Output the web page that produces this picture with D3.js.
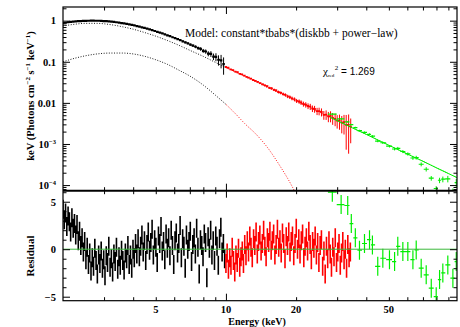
<!DOCTYPE html>
<html>
<head>
<meta charset="utf-8">
<script src="https://cdn.jsdelivr.net/npm/d3@7"></script>
<style>
  body { margin: 0; background: #fff; }
  svg { display: block; }
  text { font-family: "Liberation Serif", "DejaVu Serif", serif; fill: #000; }
</style>
</head>
<body>
<div id="app"></div>
<script>
// ---- data ----
// black instrument, 2-10 keV (unfolded spectrum)
const blackE = [2.00,2.05,2.10,2.16,2.21,2.27,2.32,2.38,2.44,2.51,
  2.57,2.64,2.70,2.77,2.84,2.92,2.99,3.07,3.15,3.23,
  3.31,3.39,3.48,3.57,3.66,3.75,3.85,3.95,4.05,4.15,
  4.26,4.36,4.47,4.59,4.71,4.83,4.95,5.08,5.21,5.34,
  5.47,5.61,5.76,5.90,6.05,6.21,6.37,6.53,6.70,6.87,
  7.04,7.22,7.41,7.60,7.79,7.99,8.19,8.40,8.62,8.84,
  9.06,9.29,9.53,9.77];
const blackFlux = [0.87,0.89,0.915,0.935,0.945,0.96,0.97,0.975,0.985,0.99,
  0.995,1.0,1.0,0.995,0.995,0.99,0.98,0.97,0.96,0.95,
  0.935,0.915,0.895,0.875,0.855,0.835,0.81,0.79,0.765,0.74,
  0.715,0.69,0.665,0.64,0.615,0.59,0.56,0.535,0.51,0.49,
  0.465,0.44,0.42,0.395,0.375,0.355,0.335,0.315,0.295,0.28,
  0.262,0.248,0.232,0.215,0.205,0.185,0.178,0.158,0.156,0.134,
  0.132,0.112,0.108,0.088];
const blackErr = [0.012,0.012,0.012,0.012,0.012,0.012,0.012,0.012,0.012,0.012,
  0.012,0.012,0.012,0.012,0.012,0.012,0.012,0.012,0.012,0.012,
  0.015,0.015,0.015,0.015,0.015,0.015,0.015,0.015,0.015,0.015,
  0.02,0.02,0.02,0.02,0.02,0.02,0.02,0.02,0.02,0.02,
  0.03,0.03,0.035,0.035,0.04,0.04,0.045,0.05,0.05,0.055,
  0.06,0.07,0.08,0.09,0.1,0.11,0.12,0.14,0.16,0.18,
  0.22,0.28,0.36,0.45];

// black residuals (finer binning)
const blackResE = [2.000,2.025,2.051,2.077,2.103,2.130,2.157,2.184,2.212,2.240,
  2.268,2.297,2.326,2.355,2.385,2.415,2.446,2.477,2.508,2.540,
  2.572,2.604,2.637,2.671,2.704,2.739,2.773,2.808,2.844,2.880,
  2.916,2.953,2.990,3.028,3.066,3.105,3.144,3.184,3.225,3.265,
  3.307,3.348,3.391,3.434,3.477,3.521,3.566,3.611,3.657,3.703,
  3.750,3.797,3.845,3.894,3.943,3.993,4.044,4.095,4.147,4.199,
  4.252,4.306,4.361,4.416,4.472,4.528,4.585,4.643,4.702,4.762,
  4.822,4.883,4.945,5.007,5.071,5.135,5.200,5.266,5.332,5.400,
  5.468,5.537,5.607,5.678,5.750,5.823,5.897,5.971,6.047,6.123,
  6.201,6.279,6.359,6.439,6.521,6.603,6.687,6.771,6.857,6.944,
  7.032,7.121,7.211,7.302,7.394,7.488,7.583,7.679,7.776,7.874,
  7.974,8.075,8.177,8.281,8.385,8.492,8.599,8.708,8.818,8.930,
  9.043,9.157,9.273,9.390,9.509,9.629,9.751,9.874];
const blackRes = [4.2,3.1,3.8,2.4,3.5,2.9,1.8,3.3,2.2,2.7,
  1.5,2.6,0.9,1.9,0.4,1.2,-0.3,0.8,-1.1,0.2,
  -1.6,-0.4,-2.3,-0.9,-1.8,0.1,-1.2,-2.6,-0.6,-1.5,
  -0.2,-2.0,-1.1,-2.8,-0.7,-1.4,0.3,-1.9,-1.0,-2.4,
  -0.5,-1.3,0.2,-2.1,-0.8,-1.7,-0.1,-1.2,-2.2,-0.4,
  -1.0,0.4,-1.6,-0.6,-2.0,0.0,-0.9,0.6,-0.5,1.1,
  -0.8,0.3,1.5,-0.3,0.9,-1.2,0.5,1.8,-0.1,0.7,
  2.1,-0.6,1.0,0.2,-1.4,1.4,0.6,2.4,-0.2,0.8,
  -1.1,1.6,0.1,1.2,-0.7,2.0,0.4,-1.6,0.9,1.7,
  -0.4,0.6,2.5,-0.9,1.1,0.3,-2.0,1.5,0.0,0.8,
  1.9,-1.3,0.5,1.2,-0.5,2.2,0.2,-2.6,1.0,0.4,
  -0.8,1.6,0.7,-3.0,1.3,0.1,2.0,-0.6,0.9,-1.2,
  1.4,0.3,-1.7,1.1,2.3,-0.3,0.6,-1.0];

// red instrument, 10-35 keV
const redE = [10.0,10.2,10.5,10.7,11.0,11.2,11.5,11.7,12.0,12.3,
  12.5,12.8,13.1,13.4,13.7,14.0,14.4,14.7,15.0,15.4,
  15.7,16.1,16.4,16.8,17.2,17.6,18.0,18.4,18.8,19.2,
  19.7,20.1,20.6,21.0,21.5,22.0,22.5,23.0,23.5,24.0,
  24.6,25.1,25.7,26.3,26.9,27.5,28.1,28.7,29.4,30.0,
  30.7,31.4,32.1,32.8,33.6,34.3];
const redFlux = [0.0745,0.0715,0.0655,0.0628,0.0578,0.0556,0.0510,0.0494,0.0462,0.0427,
  0.0413,0.0390,0.0360,0.0343,0.0325,0.0301,0.0283,0.0266,0.0254,0.0232,
  0.0225,0.0208,0.0200,0.0184,0.0176,0.0164,0.0156,0.0144,0.0138,0.0129,
  0.0122,0.0112,0.0108,0.0102,0.0094,0.0090,0.0084,0.0081,0.0073,0.0071,
  0.0063,0.0063,0.0060,0.0051,0.0052,0.0047,0.0048,0.0043,0.0041,0.0037,
  0.0037,0.0033,0.0034,0.0029,0.0029,0.0026];
const redErr = [0.02,0.02,0.02,0.022,0.022,0.024,0.025,0.026,0.028,0.03,
  0.032,0.035,0.038,0.04,0.043,0.046,0.05,0.054,0.058,0.062,
  0.066,0.07,0.074,0.078,0.082,0.086,0.09,0.095,0.1,0.105,
  0.11,0.115,0.12,0.13,0.14,0.15,0.16,0.17,0.18,0.19,
  0.2,0.21,0.22,0.24,0.26,0.28,0.3,0.32,0.34,0.36,
  0.4,0.45,0.5,0.75,0.8,0.6];

// red residuals (finer binning)
const redResE = [10.00,10.12,10.25,10.38,10.51,10.64,10.77,10.91,11.04,11.18,
  11.32,11.46,11.60,11.75,11.89,12.04,12.19,12.35,12.50,12.66,
  12.81,12.97,13.14,13.30,13.47,13.63,13.80,13.98,14.15,14.33,
  14.51,14.69,14.87,15.06,15.25,15.44,15.63,15.82,16.02,16.22,
  16.42,16.63,16.84,17.05,17.26,17.48,17.69,17.92,18.14,18.37,
  18.60,18.83,19.06,19.30,19.54,19.79,20.03,20.28,20.54,20.79,
  21.05,21.32,21.58,21.85,22.13,22.40,22.68,22.97,23.25,23.54,
  23.84,24.14,24.44,24.74,25.05,25.36,25.68,26.00,26.33,26.65,
  26.99,27.32,27.67,28.01,28.36,28.72,29.08,29.44,29.81,30.18,
  30.56,30.94,31.33,31.72,32.12,32.52,32.92,33.33,33.75,34.17];
const redRes = [-1.5,-0.4,-2.1,-0.9,-1.7,0.2,-1.2,-2.4,-0.6,-1.4,
  0.1,-1.9,-0.8,-0.2,-1.5,0.5,-0.7,0.9,-0.3,1.4,
  0.2,-0.9,1.1,0.4,1.8,-0.5,0.8,1.5,-0.2,0.6,
  2.0,0.3,-0.8,1.2,0.7,1.9,-0.1,0.9,1.6,-0.6,
  0.5,2.1,0.2,1.0,-0.4,1.7,0.6,-1.0,1.3,0.4,
  1.8,-0.3,0.8,1.4,-0.7,0.6,2.2,0.0,1.1,-0.5,
  0.9,1.6,-0.9,0.3,1.2,-0.2,1.9,0.5,-1.1,0.8,
  0.1,1.4,-0.6,0.7,-1.4,0.4,1.0,-1.8,-0.2,-2.6,
  0.3,-1.0,0.9,-0.5,-1.9,0.2,-0.8,1.2,-1.4,-0.3,
  0.6,-1.7,-0.4,0.8,-1.1,0.0,-2.0,0.5,-0.9,-0.3];

// green instrument, 28-98 keV
const greenE = [28.6,31.2,33.3,34.5,35.9,37.4,39.3,41.3,42.5,44.8,47.1,50.3,52.9,54.6,
  57.4,60.3,63.4,65.5,68.8,72.3,76.0,79.8,82.5,85.2,89.5,94.1,97.3];
const greenFlux = [0.00531,0.00407,0.00345,0.00295,0.00251,0.00212,0.00192,0.00172,0.00155,
  0.00117,0.00107,0.000883,0.000754,0.000785,0.000656,0.000573,0.000456,0.000467,0.000321,
  0.000243,0.000147,0.0000825,0.000131,0.000139,0.000142,0.0000686,0.000115];
const greenErr = [0.035,0.037,0.04,0.042,0.045,0.047,0.05,0.053,0.055,0.06,0.065,0.07,0.075,
  0.08,0.085,0.09,0.1,0.105,0.11,0.12,0.13,0.14,0.15,0.16,0.18,0.2,0.22];
const greenRes = [6.0,4.7,4.6,2.7,1.2,-0.1,0.6,1.0,0.45,-1.8,-0.95,-1.1,-1.3,0.3,
  -0.25,-0.25,-1.1,-0.07,-2.0,-2.7,-4.1,-5.0,-3.2,-2.5,-1.65,-3.05,-1.3];

// model components
const modelE = [2.0,2.25,2.5,2.8,3.2,3.6,4.0,4.5,5.0,5.6,6.3,7.0,8.0,9.0,10,11,12,13.5,15,17,19,20,
  22,25,28,30,35,40,50,60,70,80,90,98];
const powerlaw = [0.74,0.82,0.86,0.86,0.80,0.71,0.62,0.51,0.42,0.33,0.25,0.19,0.135,0.097,0.072,
  0.0557,0.044,0.032,0.0241,0.0172,0.0127,0.0111,0.00857,0.00606,0.00447,0.0037,0.00244,
  0.00171,0.00093,0.00057,0.00038,0.000263,0.000191,0.000152];
const diskbb = [0.100,0.122,0.140,0.155,0.163,0.163,0.155,0.135,0.112,0.087,0.062,0.045,0.027,
  0.0155,0.0092,0.0054,0.0032,0.0017,0.00085,0.00030,0.000105,0.00006];

const xTickVals = [5, 10, 20, 50];
const yTickVals = [1, 0.1, 0.01, 1e-3, 1e-4];
const yTickText = ["1", "0.1", "0.01", "10", "10"];
const yTickExp = ["", "", "", "\u22123", "\u22124"];
const resTickVals = [5, 0, -5];
const resTickText = ["5", "0", "\u22125"];

// ---- layout ----
const W = 460, H = 327;
const L = 63, R = 457, T = 7, M = 190.7, B = 300.7;

const x = d3.scaleLog().domain([2, 98]).range([L, R]);
const y = d3.scaleLog().domain([7.3e-5, 2.15]).range([M, T]);
const yr = d3.scaleLinear().domain([-5.42, 6.16]).range([B, M]);

const svg = d3.select("#app").append("svg").attr("width", W).attr("height", H);
const defs = svg.append("defs");
defs.append("clipPath").attr("id", "clipTop").append("rect")
  .attr("x", L).attr("y", T).attr("width", R - L).attr("height", M - T);
defs.append("clipPath").attr("id", "clipRes").append("rect")
  .attr("x", L).attr("y", M).attr("width", R - L).attr("height", B - M);

const gTop = svg.append("g").attr("clip-path", "url(#clipTop)");
const gRes = svg.append("g").attr("clip-path", "url(#clipRes)");

function edges(E) {
  return E.map((e, i) => {
    const prev = i > 0 ? E[i - 1] : e * e / E[i + 1];
    const next = i < E.length - 1 ? E[i + 1] : e * e / E[i - 1];
    return [Math.sqrt(prev * e), Math.sqrt(e * next)];
  });
}

const series = [
  { E: blackE, flux: blackFlux, err: blackErr, rE: blackResE, res: blackRes, color: "#000", tw: 2.2, w: 1.6 },
  { E: redE, flux: redFlux, err: redErr, rE: redResE, res: redRes, color: "#ff0000", tw: 1.8, w: 1.6 },
  { E: greenE, flux: greenFlux, err: greenErr, rE: greenE, res: greenRes, color: "#00ee00", tw: 1.2, w: 1.2 }
];

series.forEach(s => {
  const ed = edges(s.E), er = edges(s.rE);
  let pTop = "", pErr = "", pRes = "";
  s.E.forEach((e, i) => {
    const f = s.flux[i], sig = s.err[i];
    const lo = Math.max(f * (1 - sig), 5e-5);
    pTop += `M${x(ed[i][0])},${y(f)}H${x(ed[i][1])}`;
    pErr += `M${x(e)},${y(f * (1 + sig))}V${y(lo)}`;
  });
  s.rE.forEach((e, i) => {
    const r = s.res[i];
    pRes += `M${x(er[i][0])},${yr(r)}H${x(er[i][1])}M${x(e)},${yr(r + 1)}V${yr(r - 1)}`;
  });
  gTop.append("path").attr("d", pErr).attr("fill", "none")
    .attr("stroke", s.color).attr("stroke-width", 1);
  gTop.append("path").attr("d", pTop).attr("fill", "none")
    .attr("stroke", s.color).attr("stroke-width", s.tw);
  gRes.append("path").attr("d", pRes).attr("fill", "none")
    .attr("stroke", s.color).attr("stroke-width", s.w);
});

// model curves, coloured by instrument range
const ranges = [[2, 10, "#000"], [10, 34.5, "#ff0000"], [28, 98, "#00ee00"]];
const total = modelE.map((e, i) => powerlaw[i] + (diskbb[i] || 0));
const line = d3.line().x(d => x(d[0])).y(d => y(d[1])).curve(d3.curveMonotoneX);

ranges.forEach(([a, b, c]) => {
  const pick = arr => modelE.map((e, i) => [e, arr[i]])
    .filter(d => d[0] >= a && d[0] <= b && d[1] != null);
  gTop.append("path").attr("d", line(pick(powerlaw))).attr("fill", "none")
    .attr("stroke", c).attr("stroke-width", 0.9).attr("stroke-dasharray", "1 1.6");
  const dk = pick(diskbb);
  if (dk.length > 1) {
    gTop.append("path").attr("d", line(dk)).attr("fill", "none")
      .attr("stroke", c).attr("stroke-width", 0.9).attr("stroke-dasharray", "1 1.6");
  }
  if (a >= 28) {
    gTop.append("path").attr("d", line(pick(total))).attr("fill", "none")
      .attr("stroke", c).attr("stroke-width", 1);
  }
});

// zero line of residuals
svg.append("line").attr("x1", L).attr("x2", R).attr("y1", yr(0)).attr("y2", yr(0))
  .attr("stroke", "#3cb83c").attr("stroke-width", 1);

// ---- ticks ----
function tickSet(axisFn, scale, vals, len, tx, ty) {
  svg.append("g").attr("transform", `translate(${tx},${ty})`)
    .call(axisFn(scale).tickValues(vals).tickSize(-len).tickFormat(""))
    .call(g => g.select(".domain").remove())
    .call(g => g.selectAll("line").attr("stroke", "#000").attr("stroke-width", 1));
}
const xMinor = [3, 4, 5, 6, 7, 8, 9, 20, 30, 40, 50, 60, 70, 80, 90];
const xMajor = [10];
[[d3.axisTop, T], [d3.axisBottom, M], [d3.axisTop, M], [d3.axisBottom, B]].forEach(([fn, yy]) => {
  tickSet(fn, x, xMinor, 3.5, 0, yy);
  tickSet(fn, x, xMajor, 7, 0, yy);
});
const yAll = y.ticks().filter(v => v >= 7.3e-5 && v <= 2.15);
const yMinor = yAll.filter(v => !yTickVals.some(t => Math.abs(t - v) / t < 1e-6));
const rMinor = d3.range(-5, 7).filter(v => !resTickVals.includes(v));
[[d3.axisLeft, L], [d3.axisRight, R]].forEach(([fn, xx]) => {
  tickSet(fn, y, yMinor, 3.5, xx, 0);
  tickSet(fn, y, yTickVals, 7, xx, 0);
  tickSet(fn, yr, rMinor, 3.5, xx, 0);
  tickSet(fn, yr, resTickVals, 7, xx, 0);
});

// frame
svg.append("rect").attr("x", L).attr("y", T).attr("width", R - L).attr("height", B - T)
  .attr("fill", "none").attr("stroke", "#000").attr("stroke-width", 1.2);
svg.append("line").attr("x1", L).attr("x2", R).attr("y1", M).attr("y2", M)
  .attr("stroke", "#000").attr("stroke-width", 2);

// ---- labels ----
const fs = 10.5;
yTickVals.forEach((v, i) => {
  const t = svg.append("text").attr("x", 56).attr("y", y(v) + 3.8)
    .attr("text-anchor", "end").attr("font-size", fs).attr("font-weight", "bold");
  t.append("tspan").text(yTickText[i]);
  if (yTickExp[i]) t.append("tspan").attr("font-size", 6.5).attr("dy", -4).text(yTickExp[i]);
});
resTickVals.forEach((v, i) => {
  svg.append("text").attr("x", 56).attr("y", yr(v) + 3.8).attr("text-anchor", "end")
    .attr("font-size", fs).attr("font-weight", "bold").text(resTickText[i]);
});
xTickVals.forEach(v => {
  svg.append("text").attr("x", x(v)).attr("y", 312.5).attr("text-anchor", "middle")
    .attr("font-size", fs).attr("font-weight", "bold").text(v);
});

svg.append("text").attr("x", 257).attr("y", 325).attr("text-anchor", "middle")
  .attr("font-size", 10).attr("font-weight", "bold").text("Energy (keV)");

const yl = svg.append("text").attr("transform", "translate(34,96) rotate(-90)")
  .attr("text-anchor", "middle").attr("font-size", fs).attr("font-weight", "bold");
yl.append("tspan").text("keV (Photons cm");
yl.append("tspan").attr("font-size", 7).attr("dy", -4).text("\u22122");
yl.append("tspan").attr("dy", 4).text(" s");
yl.append("tspan").attr("font-size", 7).attr("dy", -4).text("\u22121");
yl.append("tspan").attr("dy", 4).text(" keV");
yl.append("tspan").attr("font-size", 7).attr("dy", -4).text("\u22121");
yl.append("tspan").attr("dy", 4).text(")");

svg.append("text").attr("transform", "translate(34,256) rotate(-90)")
  .attr("text-anchor", "middle").attr("font-size", 11).attr("font-weight", "bold").text("Residual");

svg.append("text").attr("x", 185).attr("y", 37).attr("font-size", 11.5)
  .text("Model: constant*tbabs*(diskbb + power\u2212law)");

const chi = svg.append("text").attr("x", 323).attr("y", 75).attr("font-size", 11);
chi.append("tspan").text("\u03c7");
chi.append("tspan").attr("font-size", 5).attr("dy", 2).text("red");
chi.append("tspan").attr("font-size", 7).attr("dx", 0.5).attr("dy", -7).text("2");
chi.append("tspan").attr("dy", 5).attr("font-size", 10)
  .style("font-family", "'Liberation Sans', Arial, sans-serif").text(" = 1.269");
</script>
</body>
</html>
